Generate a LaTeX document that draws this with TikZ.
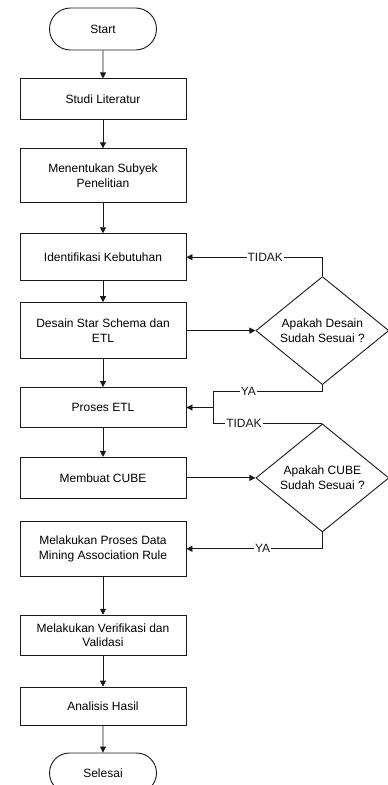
\documentclass[tikz,border=0pt]{standalone}
\usepackage{fontspec}
\setmainfont{Liberation Sans}
\usetikzlibrary{positioning,arrows.meta,shapes.geometric,shapes.misc}

\begin{document}
\begin{tikzpicture}[x=1pt,y=1pt,
  box/.style={draw=black!90,line width=0.9pt,align=center,font=\fontsize{12}{14.5}\selectfont,minimum width=166pt,inner sep=2pt},
  term/.style={box,rounded rectangle,minimum width=111pt},
  decision/.style={box,diamond,minimum width=133pt,minimum height=102pt,inner sep=0pt},
  flow/.style={-{Triangle[length=6pt,width=6pt]},line width=0.9pt,black!90},
  lbl/.style={fill=white,inner sep=1pt,font=\fontsize{12}{14}\selectfont}]
\useasboundingbox (0,0) rectangle (388,-785);
\node[term,minimum height=42pt] (start) at (103,-29) {Start};
\node[box,below=28pt of start,minimum height=41pt] (studi) {Studi Literatur};
\node[box,below=28pt of studi,minimum height=54pt] (subyek) {Menentukan Subyek\\Penelitian};
\node[box,below=30pt of subyek,minimum height=47pt] (ident) {Identifikasi Kebutuhan};
\node[box,below=21pt of ident,minimum height=56pt] (desain) {Desain Star Schema dan\\ETL};
\node[box,below=28pt of desain,minimum height=40pt] (etl) {Proses ETL};
\node[box,below=29pt of etl,minimum height=41pt] (cube) {Membuat CUBE};
\node[box,below=22pt of cube,minimum height=55pt] (mining) {Melakukan Proses Data\\Mining Association Rule};
\node[box,below=38pt of mining,minimum height=40pt] (verif) {Melakukan Verifikasi dan\\Validasi};
\node[box,below=31pt of verif,minimum height=38pt] (hasil) {Analisis Hasil};
\node[term,below=27pt of hasil,minimum height=40pt] (selesai) {Selesai};
\node[decision,right=69pt of desain] (cekdesain) {Apakah Desain\\Sudah Sesuai ?};
\node[decision,right=69pt of cube] (cekcube) {Apakah CUBE\\Sudah Sesuai ?};
\coordinate[right=27pt of etl] (gabung);
\draw[flow] (start) -- (studi); \draw[flow] (studi) -- (subyek);
\draw[flow] (subyek) -- (ident); \draw[flow] (ident) -- (desain);
\draw[flow] (desain) -- (etl); \draw[flow] (etl) -- (cube);
\draw[flow] (mining) -- (verif); \draw[flow] (verif) -- (hasil);
\draw[flow] (hasil) -- (selesai);
\draw[flow] (desain) -- (cekdesain); \draw[flow] (cube) -- (cekcube);
\draw[flow] (cekdesain.north) |- node[lbl,pos=0.71] {TIDAK} (ident.east);
\draw[flow] (cekdesain.south) -- ++(0,-6) -| node[lbl,pos=0.34] {YA} (gabung) -- (etl.east);
\draw[line width=0.9pt,black!90] (cekcube.north) -| node[lbl,pos=0.36] {TIDAK} (gabung);
\draw[flow] (cekcube.south) |- node[lbl,pos=0.72] {YA} (mining.east);
\end{tikzpicture}
\end{document}
